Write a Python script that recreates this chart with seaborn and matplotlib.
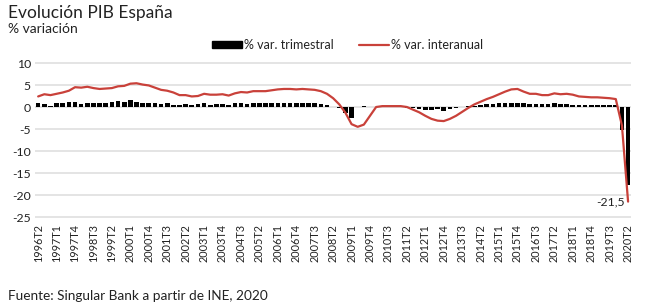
import numpy as np
import pandas as pd
import matplotlib
matplotlib.use("Agg")
import matplotlib.pyplot as plt
import seaborn as sns
from matplotlib.patches import Patch
from matplotlib.lines import Line2D

# ---- data -------------------------------------------------------------
quarters = [f"{y}T{q}" for y in range(1996, 2021) for q in range(1, 5)][1:-2]

qoq = [0.8, 0.7, 0.3,                     # 1996
       0.8, 0.9, 1.1, 1.2,                # 1997
       0.6, 1.0, 0.9, 1.0,                # 1998
       1.0, 1.2, 1.3, 1.1,                # 1999
       1.6, 1.2, 1.0, 1.0,                # 2000
       1.0, 0.7, 0.8, 0.5,                # 2001
       0.4, 0.7, 0.4, 0.7,                # 2002
       0.8, 0.5, 0.6, 0.6,                # 2003
       0.4, 0.8, 0.8, 0.6,                # 2004
       0.8, 0.9, 0.8, 0.9,                # 2005
       0.9, 0.9, 0.9, 0.9,                # 2006
       0.9, 0.8, 0.8, 0.7,                # 2007
       0.4, 0.1, -0.2, -1.4,              # 2008
       -2.6, -0.1, 0.2, 0.1,              # 2009
       0.1, 0.2, 0.0, 0.1,                # 2010
       0.0, -0.3, -0.3, -0.5,             # 2011
       -0.6, -0.7, -0.5, -0.8,            # 2012
       -0.4, -0.2, 0.1, 0.2,              # 2013
       0.3, 0.5, 0.6, 0.6,                # 2014
       0.8, 1.0, 1.0, 0.9,                # 2015
       0.8, 0.7, 0.6, 0.7,                # 2016
       0.7, 0.8, 0.6, 0.6,                # 2017
       0.5, 0.5, 0.5, 0.5,                # 2018
       0.5, 0.4, 0.4, 0.4,                # 2019
       -5.2, -17.8]                       # 2020

yoy = [2.4, 2.9, 2.7,                     # 1996
       3.0, 3.3, 3.7, 4.5,                # 1997
       4.4, 4.6, 4.3, 4.1,                # 1998
       4.2, 4.3, 4.7, 4.8,                # 1999
       5.3, 5.4, 5.1, 4.9,                # 2000
       4.4, 3.9, 3.7, 3.3,                # 2001
       2.7, 2.7, 2.4, 2.5,                # 2002
       3.0, 2.8, 2.8, 2.9,                # 2003
       2.6, 3.1, 3.4, 3.3,                # 2004
       3.6, 3.6, 3.6, 3.8,                # 2005
       4.0, 4.1, 4.1, 4.0,                # 2006
       4.1, 4.0, 3.9, 3.6,                # 2007
       3.0, 2.0, 0.6, -1.3,               # 2008
       -3.9, -4.5, -4.0, -2.0,            # 2009
       0.0, 0.2, 0.2, 0.2,                # 2010
       0.2, 0.0, -0.6, -1.2,              # 2011
       -2.0, -2.7, -3.1, -3.2,            # 2012
       -2.7, -2.0, -1.1, -0.2,            # 2013
       0.6, 1.2, 1.8, 2.3,                # 2014
       2.9, 3.5, 4.0, 4.1,                # 2015
       3.5, 3.0, 3.0, 2.7,                # 2016
       2.7, 3.1, 2.9, 3.0,                # 2017
       2.8, 2.4, 2.3, 2.2,                # 2018
       2.2, 2.1, 2.0, 1.8,                # 2019
       -4.2, -21.5]                       # 2020

y_ticks = [10, 5, 0, -5, -10, -15, -20, -25]
title = "Evolución PIB España"
subtitle = "% variación"
source = "Fuente: Singular Bank a partir de INE, 2020"
label_bar = "% var. trimestral"
label_line = "% var. interanual"

df = pd.DataFrame({"idx": np.arange(len(quarters)), "quarter": quarters,
                   "qoq": qoq, "yoy": yoy})

# ---- style ------------------------------------------------------------
sns.set_style("white")
plt.rcParams["font.family"] = ["Lato", "DejaVu Sans"]
plt.rcParams["axes.unicode_minus"] = False

RED = "#c9413a"
TXT = "#222222"

fig = plt.figure(figsize=(6.5, 3.04), dpi=100)
ax = fig.add_axes([0.054, 0.276, 0.917, 0.524])

sns.barplot(data=df, x="idx", y="qoq", color="black", saturation=1,
            width=0.75, ax=ax, zorder=2, linewidth=0)
sns.lineplot(data=df, x="idx", y="yoy", color=RED, linewidth=1.6,
             ax=ax, zorder=3)

ax.set_xlim(-0.5, len(quarters) - 0.5)
ax.set_ylim(-25.7, 10.5)
ax.set_yticks(y_ticks)
ax.set_yticklabels([str(v) for v in y_ticks], fontsize=8.8, color=TXT)
tick_pos = list(range(0, len(quarters), 3))
ax.set_xticks(tick_pos)
ax.set_xticklabels([quarters[i] for i in tick_pos], rotation=90,
                   fontsize=7.8, color=TXT)
ax.tick_params(axis="both", length=0, pad=3)
ax.set_xlabel("")
ax.set_ylabel("")
ax.grid(axis="y", color="#dcdcdc", linewidth=1.1, zorder=0)
ax.set_axisbelow(True)
for s in ax.spines.values():
    s.set_visible(False)

# annotation of last value
ax.text(len(quarters) - 1.6, yoy[-1], "-21,5", ha="right", va="center",
        fontsize=8.8, color=TXT)

# legend
handles = [Patch(facecolor="black", edgecolor="black", label=label_bar),
           Line2D([0], [0], color=RED, linewidth=1.6, label=label_line)]
fig.legend(handles=handles, loc="center", bbox_to_anchor=(0.535, 0.852),
           ncol=2, frameon=False, fontsize=9, handlelength=2.4,
           handleheight=0.55, handletextpad=0.15, columnspacing=2.0,
           labelcolor=TXT)

# titles and source
fig.text(0.012, 0.958, title, fontsize=12.5, color=TXT, va="center", ha="left")
fig.text(0.012, 0.905, subtitle, fontsize=10, color=TXT, va="center", ha="left")
fig.text(0.012, 0.026, source, fontsize=9.8, color=TXT, va="center", ha="left")

fig.savefig("out.png", dpi=100)
